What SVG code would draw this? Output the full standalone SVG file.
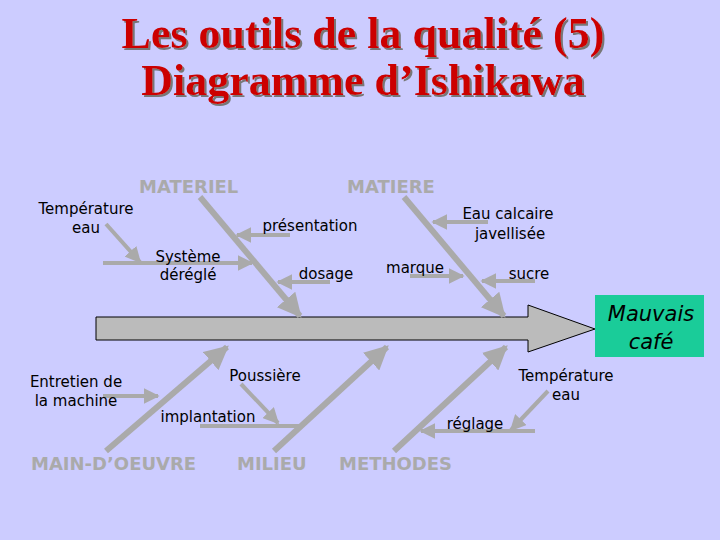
<svg xmlns="http://www.w3.org/2000/svg" width="720" height="540" viewBox="0 0 720 540">
<style>
.t{font-family:"Liberation Serif",serif;font-weight:bold;font-size:44px;text-anchor:middle;fill:#CC0000}
.c{font-family:"DejaVu Sans",sans-serif;font-weight:bold;font-size:18px;fill:#AAAAAA}
.l{font-family:"DejaVu Sans",sans-serif;font-size:15px;fill:#000}
.e{font-family:"DejaVu Sans",sans-serif;font-size:21px;font-style:italic;fill:#000;text-anchor:middle}
.b{stroke:#AAAAAA;stroke-width:6;fill:none}
.s{stroke:#AAAAAA;stroke-width:4;fill:none}
</style>
<defs>
<marker id="a" viewBox="0 0 10 10" refX="9" refY="5" markerWidth="4" markerHeight="4" orient="auto" markerUnits="strokeWidth"><path d="M0,0L10,5L0,10z" fill="#AAAAAA"/></marker>
<filter id="sh" x="-5%" y="-20%" width="110%" height="140%"><feDropShadow dx="2" dy="2" stdDeviation="0.5" flood-color="#777"/></filter>
</defs>
<rect width="720" height="540" fill="#CCCCFF"/>
<g id="title" filter="url(#sh)">
<text class="t" x="363" y="48">Les outils de la qualité (5)</text>
<text class="t" x="363" y="95">Diagramme d’Ishikawa</text>
</g>
<g id="spine"><path d="M96,317H528V305L595,329L528,352V340H96Z" fill="#BBBBBB" stroke="#000" stroke-width="1"/></g>
<g id="effect"><rect x="595" y="295" width="109" height="62" fill="#1ACC99"/>
<text class="e" x="651" y="321">Mauvais</text>
<text class="e" x="651" y="349">café</text></g>
<g id="connectors">
<line class="b" x1="200" y1="197" x2="300" y2="316" marker-end="url(#a)"/>
<line class="b" x1="404" y1="197" x2="504" y2="316" marker-end="url(#a)"/>
<line class="b" x1="106" y1="451" x2="227" y2="347" marker-end="url(#a)"/>
<line class="b" x1="274" y1="451" x2="387" y2="347" marker-end="url(#a)"/>
<line class="b" x1="394" y1="451" x2="506" y2="347" marker-end="url(#a)"/>
<line class="s" x1="106" y1="224" x2="140" y2="262" marker-end="url(#a)"/>
<line class="s" x1="103" y1="263" x2="252" y2="263" marker-end="url(#a)"/>
<line class="s" x1="290" y1="235" x2="237" y2="235" marker-end="url(#a)"/>
<line class="s" x1="330" y1="282" x2="278" y2="282" marker-end="url(#a)"/>
<line class="s" x1="488" y1="222" x2="433" y2="222" marker-end="url(#a)"/>
<line class="s" x1="410" y1="276" x2="463" y2="276" marker-end="url(#a)"/>
<line class="s" x1="535" y1="281" x2="482" y2="281" marker-end="url(#a)"/>
<line class="s" x1="103" y1="396" x2="158" y2="396" marker-end="url(#a)"/>
<line class="s" x1="241" y1="384" x2="278" y2="423" marker-end="url(#a)"/>
<line class="s" x1="200" y1="426" x2="302" y2="426"/>
<line class="s" x1="548" y1="391" x2="511" y2="430" marker-end="url(#a)"/>
<line class="s" x1="535" y1="431" x2="421" y2="431" marker-end="url(#a)"/>
</g>
<g id="categories">
<text class="c" x="139" y="193">MATERIEL</text>
<text class="c" x="347" y="193">MATIERE</text>
<text class="c" x="31" y="470">MAIN-D’OEUVRE</text>
<text class="c" x="237" y="470">MILIEU</text>
<text class="c" x="339" y="470">METHODES</text>
</g>
<g id="labels" text-anchor="middle">
<text class="l" x="86" y="214">Température</text><text class="l" x="86" y="233">eau</text>
<text class="l" x="188" y="262">Système</text><text class="l" x="188" y="280">déréglé</text>
<text class="l" x="310" y="231">présentation</text>
<text class="l" x="326" y="279">dosage</text>
<text class="l" x="508" y="219">Eau calcaire</text><text class="l" x="510" y="239">javellisée</text>
<text class="l" x="415" y="273">marque</text>
<text class="l" x="529" y="279">sucre</text>
<text class="l" x="76" y="387">Entretien de</text><text class="l" x="76" y="406">la machine</text>
<text class="l" x="265" y="381">Poussière</text>
<text class="l" x="208" y="422">implantation</text>
<text class="l" x="566" y="381">Température</text><text class="l" x="566" y="400">eau</text>
<text class="l" x="475" y="429">réglage</text>
</g>
</svg>
